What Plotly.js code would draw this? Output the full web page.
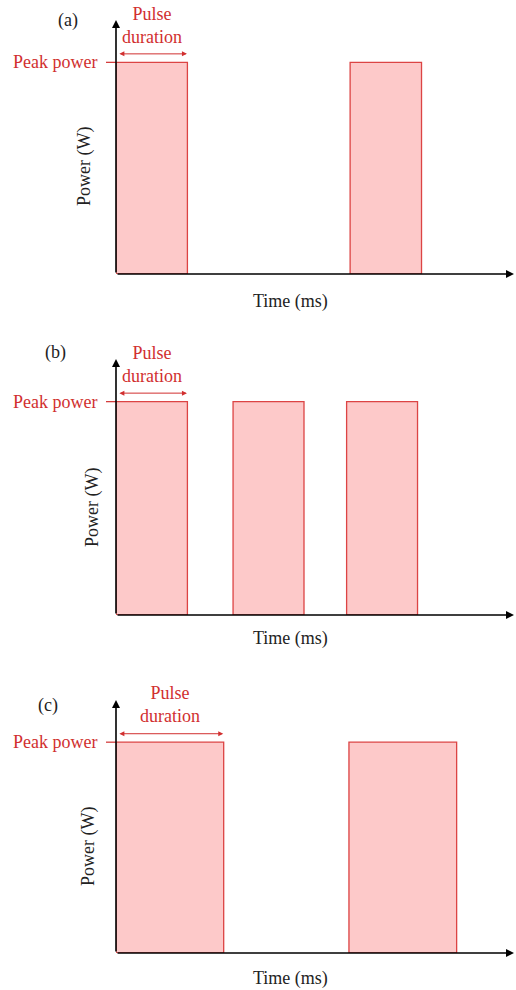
<!DOCTYPE html>
<html>
<head>
<meta charset="utf-8">
<script src="https://cdn.plot.ly/plotly-3.0.1.min.js"></script>
<style>html,body{margin:0;padding:0;background:#fff;}#chart{width:516px;height:990px;}</style>
</head>
<body>
<div id="chart"></div>
<script>
// ---- data (time in ms-like units, power normalised to peak) ----
const panelLabels = ["(a)", "(b)", "(c)"];
const pulseStartsA = [0, 10];
const pulseDurA = [3.05, 3.05];
const pulseStartsB = [0, 5.0, 9.85];
const pulseDurB = [3.05, 3.03, 3.03];
const pulseStartsC = [0, 9.95];
const pulseDurC = [4.6, 4.6];
const peakPower = 1;
const xLabel = "Time (ms)";
const yLabel = "Power (W)";
const peakLabel = "Peak power";
const durLabel = "Pulse<br>duration";

const W = 516, H = 990;
const px = v => v / W;
const py = v => 1 - v / H;
const FONT = "'Liberation Serif', 'DejaVu Serif', serif";
const RED = "#d12f2f";
const FILL = "#fdc9c9";
const EDGE = "#dc4444";

const panels = [
  {starts: pulseStartsA, durs: pulseDurA, base: 274, top: 20, lab: [68, 20], time: 301, power: [85, 167]},
  {starts: pulseStartsB, durs: pulseDurB, base: 615, top: 359, lab: [55, 352], time: 638, power: [92, 508]},
  {starts: pulseStartsC, durs: pulseDurC, base: 953, top: 700, lab: [48, 705], time: 978, power: [88, 847]}
];

const data = [];
const layout = {
  width: W, height: H,
  margin: {l: 0, r: 0, t: 0, b: 0},
  paper_bgcolor: "#fff", plot_bgcolor: "rgba(0,0,0,0)",
  showlegend: false,
  font: {family: FONT, size: 18, color: "#111"},
  annotations: [], shapes: []
};

panels.forEach((p, i) => {
  const n = i === 0 ? "" : String(i + 1);
  const xa = "x" + n, ya = "y" + n;
  layout["xaxis" + n] = {domain: [px(116), px(514)], range: [0, 17], visible: false, fixedrange: true};
  layout["yaxis" + n] = {domain: [py(p.base), py(p.top)], range: [0, 1.2], visible: false, fixedrange: true};

  data.push({
    type: "bar", xaxis: xa, yaxis: ya,
    x: p.starts, y: p.starts.map(() => peakPower), width: p.durs, offset: 0,
    marker: {color: FILL, line: {color: EDGE, width: 1.3}},
    hoverinfo: "skip"
  });

  const A = layout.annotations;
  // x axis arrow
  A.push({xref: xa, yref: ya, x: 17, y: 0, axref: xa, ayref: ya, ax: 0, ay: 0,
          text: "", showarrow: true, arrowhead: 2, arrowsize: 1, arrowwidth: 1.6, arrowcolor: "#000"});
  // y axis arrow
  A.push({xref: xa, yref: ya, x: 0, y: 1.2, axref: xa, ayref: ya, ax: 0, ay: 0,
          text: "", showarrow: true, arrowhead: 2, arrowsize: 1, arrowwidth: 1.6, arrowcolor: "#000"});
  // pulse duration arrow (double headed)
  const d = p.durs[0];
  A.push({xref: xa, yref: ya, x: d - 0.02, y: 1.04, axref: xa, ayref: ya, ax: 0.08, ay: 1.04,
          text: "", showarrow: true, arrowside: "end+start", arrowhead: 2, arrowsize: 1,
          arrowwidth: 1, arrowcolor: RED});
  A.push({xref: xa, yref: ya, x: d / 2, y: 1.065, xanchor: "center", yanchor: "bottom",
          text: durLabel, showarrow: false, font: {family: FONT, size: 18, color: RED}});
  // peak power label + tick
  A.push({xref: "paper", yref: ya, x: px(99), y: peakPower, xanchor: "right", yanchor: "middle",
          text: peakLabel, showarrow: false, font: {family: FONT, size: 18, color: RED}});
  layout.shapes.push({type: "line", xref: "paper", yref: ya, x0: px(106), x1: px(116),
          y0: peakPower, y1: peakPower, line: {color: RED, width: 1.2}});
  // panel label
  A.push({xref: "paper", yref: "paper", x: px(p.lab[0]), y: py(p.lab[1]), xanchor: "center", yanchor: "middle",
          text: panelLabels[i], showarrow: false, font: {family: FONT, size: 18, color: "#222"}});
  // axis titles
  A.push({xref: "paper", yref: "paper", x: px(290), y: py(p.time), xanchor: "center", yanchor: "middle",
          text: xLabel, showarrow: false, font: {family: FONT, size: 18, color: "#222"}});
  A.push({xref: "paper", yref: "paper", x: px(p.power[0]), y: py(p.power[1]), xanchor: "center", yanchor: "middle",
          textangle: -90, text: yLabel, showarrow: false, font: {family: FONT, size: 18, color: "#222"}});
});

Plotly.newPlot("chart", data, layout, {displayModeBar: false, staticPlot: true});
</script>
</body>
</html>
